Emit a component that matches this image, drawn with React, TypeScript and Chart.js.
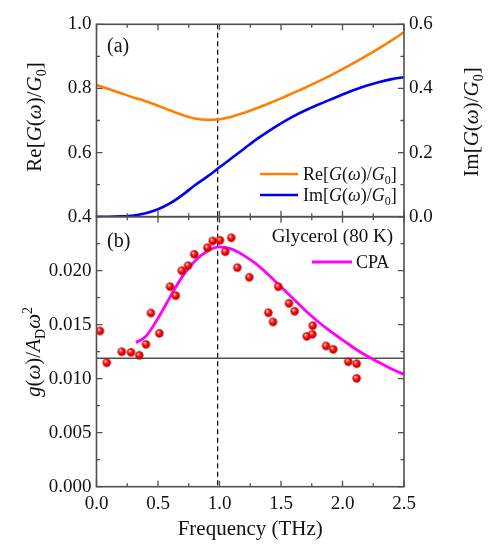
import React, { useEffect, useRef } from "react";
import { Chart, registerables } from "chart.js";

Chart.register(...registerables);

// ---------- data ----------
const freqGrid = [0, 0.1, 0.2, 0.3, 0.4, 0.5, 0.6, 0.7, 0.8, 0.9, 1.0, 1.1, 1.2, 1.3, 1.4, 1.5, 1.6, 1.7, 1.8, 1.9, 2.0, 2.1, 2.2, 2.3, 2.4, 2.5];
const reValues = [0.811, 0.798, 0.785, 0.772, 0.760, 0.746, 0.731, 0.717, 0.706, 0.702, 0.704, 0.712, 0.724, 0.738, 0.753, 0.769, 0.786, 0.803, 0.821, 0.840, 0.860, 0.881, 0.903, 0.926, 0.950, 0.975];
const imValues = [0.0, 0.0, 0.001, 0.004, 0.011, 0.023, 0.042, 0.068, 0.098, 0.125, 0.154, 0.183, 0.212, 0.241, 0.267, 0.291, 0.313, 0.332, 0.349, 0.365, 0.381, 0.396, 0.409, 0.420, 0.429, 0.435];

const cpaFreq = [0.32, 0.4, 0.5, 0.6, 0.7, 0.8, 0.9, 1.0, 1.1, 1.2, 1.3, 1.4, 1.5, 1.6, 1.7, 1.8, 1.9, 2.0, 2.1, 2.2, 2.3, 2.4, 2.5];
const cpaValues = [0.01335, 0.0139, 0.0156, 0.0176, 0.0195, 0.0209, 0.0218, 0.0222, 0.0220, 0.0214, 0.0206, 0.0196, 0.0185, 0.0174, 0.0163, 0.0153, 0.0144, 0.0136, 0.0128, 0.0121, 0.0115, 0.0109, 0.0104];

const expFreq = [0.028, 0.083, 0.205, 0.28, 0.348, 0.402, 0.443, 0.511, 0.598, 0.644, 0.693, 0.744, 0.795, 0.901, 0.945, 1.004, 1.047, 1.096, 1.145, 1.242, 1.397, 1.435, 1.478, 1.565, 1.611, 1.709, 1.755, 1.758, 1.866, 1.925, 2.047, 2.115, 2.115];
const expValues = [0.01442, 0.01148, 0.0125, 0.01244, 0.01217, 0.01318, 0.01608, 0.0142, 0.01852, 0.01769, 0.0200, 0.02046, 0.02152, 0.02213, 0.02275, 0.02281, 0.02176, 0.02305, 0.02028, 0.01939, 0.01611, 0.01525, 0.01852, 0.01698, 0.01624, 0.01392, 0.01411, 0.01491, 0.01303, 0.01272, 0.01157, 0.01139, 0.01003];

const xTicks = [0, 0.5, 1.0, 1.5, 2.0, 2.5];
const xMinorTicks = [0.25, 0.75, 1.25, 1.75, 2.25];
const reTicks = [0.4, 0.6, 0.8, 1.0];
const reMinorTicks = [0.5, 0.7, 0.9];
const imTicks = [0.0, 0.2, 0.4, 0.6];
const imMinorTicks = [0.1, 0.3, 0.5];
const gTicks = [0.0, 0.005, 0.01, 0.015, 0.02];
const gAllTicks = [0.0, 0.005, 0.01, 0.015, 0.02, 0.025];
const gMinorTicks = [0.0025, 0.0075, 0.0125, 0.0175, 0.0225];

const markerFreq = 0.985;
const baselineValue = 0.0119;

// ---------- layout / style ----------
const W = 499;
const H = 556;
const PLOT_L = 96.5;
const PLOT_R = 404;
const TOP_T = 24.3;
const MID = 216.7;
const BOT_B = 486.7;

const FONT = '"Liberation Serif", "DejaVu Serif", serif';
const ORANGE = "#FF8000";
const BLUE = "#0000F0";
const MAGENTA = "#FF00FF";
const AXIS = "#505050";
const TEXT = "#111111";

type Seg = { t: string; i?: boolean; sub?: boolean; sup?: boolean };

function drawRich(ctx: CanvasRenderingContext2D, segs: Seg[], size: number, x: number, y: number, align: "left" | "center" | "right", rotate = false) {
  ctx.save();
  ctx.translate(x, y);
  if (rotate) ctx.rotate(-Math.PI / 2);
  const fontFor = (s: Seg) => `${s.i ? "italic " : ""}${s.sub || s.sup ? Math.round(size * 0.68) : size}px ${FONT}`;
  let w = 0;
  for (const s of segs) {
    ctx.font = fontFor(s);
    w += ctx.measureText(s.t).width;
  }
  let cx = align === "left" ? 0 : align === "center" ? -w / 2 : -w;
  ctx.textBaseline = "alphabetic";
  ctx.textAlign = "left";
  ctx.fillStyle = TEXT;
  const base = size * 0.33;
  for (const s of segs) {
    ctx.font = fontFor(s);
    const dy = s.sub ? size * 0.22 : s.sup ? -size * 0.4 : 0;
    ctx.fillText(s.t, cx, base + dy);
    cx += ctx.measureText(s.t).width;
  }
  ctx.restore();
}

const reLabel: Seg[] = [{ t: "Re[" }, { t: "G", i: true }, { t: "(" }, { t: "ω", i: true }, { t: ")/" }, { t: "G", i: true }, { t: "0", sub: true }, { t: "]" }];
const imLabel: Seg[] = [{ t: "Im[" }, { t: "G", i: true }, { t: "(" }, { t: "ω", i: true }, { t: ")/" }, { t: "G", i: true }, { t: "0", sub: true }, { t: "]" }];
const gLabel: Seg[] = [{ t: "g", i: true }, { t: "(" }, { t: "ω", i: true }, { t: ")/" }, { t: "A", i: true }, { t: "D", sub: true }, { t: "ω", i: true }, { t: "2", sup: true }];

type FrameCfg = {
  left: string;
  right?: string;
  leftMajor: number[];
  leftMinor: number[];
  rightMajor: number[];
  rightMinor: number[];
  hline?: number;
  decorate: (ctx: CanvasRenderingContext2D, chart: any) => void;
};

function makeFramePlugin(cfg: FrameCfg) {
  return {
    id: "frame",
    beforeDatasetsDraw(chart: any) {
      const ctx: CanvasRenderingContext2D = chart.ctx;
      const a = chart.chartArea;
      const xs = chart.scales.x;
      const yl = chart.scales[cfg.left];
      ctx.save();
      if (cfg.hline !== undefined) {
        const py = yl.getPixelForValue(cfg.hline);
        ctx.strokeStyle = AXIS;
        ctx.lineWidth = 1.5;
        ctx.beginPath();
        ctx.moveTo(a.left, py);
        ctx.lineTo(a.right, py);
        ctx.stroke();
      }
      const px = xs.getPixelForValue(markerFreq);
      ctx.strokeStyle = "#000";
      ctx.lineWidth = 1.2;
      ctx.setLineDash([5, 3.5]);
      ctx.beginPath();
      ctx.moveTo(px, a.top);
      ctx.lineTo(px, a.bottom);
      ctx.stroke();
      ctx.restore();
    },
    afterDraw(chart: any) {
      const ctx: CanvasRenderingContext2D = chart.ctx;
      const a = chart.chartArea;
      const xs = chart.scales.x;
      const yl = chart.scales[cfg.left];
      const yr = cfg.right ? chart.scales[cfg.right] : yl;
      const MAJ = 6;
      const MIN = 3.5;
      ctx.save();
      ctx.strokeStyle = AXIS;
      ctx.lineWidth = 1.6;
      ctx.strokeRect(a.left, a.top, a.right - a.left, a.bottom - a.top);
      ctx.lineWidth = 1.3;
      ctx.beginPath();
      const xt = (vals: number[], len: number) => {
        for (const v of vals) {
          const p = xs.getPixelForValue(v);
          ctx.moveTo(p, a.bottom);
          ctx.lineTo(p, a.bottom - len);
          ctx.moveTo(p, a.top);
          ctx.lineTo(p, a.top + len);
        }
      };
      xt(xTicks, MAJ);
      xt(xMinorTicks, MIN);
      const yt = (scale: any, vals: number[], len: number, side: "l" | "r") => {
        for (const v of vals) {
          const p = scale.getPixelForValue(v);
          if (side === "l") {
            ctx.moveTo(a.left, p);
            ctx.lineTo(a.left + len, p);
          } else {
            ctx.moveTo(a.right, p);
            ctx.lineTo(a.right - len, p);
          }
        }
      };
      yt(yl, cfg.leftMajor, MAJ, "l");
      yt(yl, cfg.leftMinor, MIN, "l");
      yt(yr, cfg.rightMajor, MAJ, "r");
      yt(yr, cfg.rightMinor, MIN, "r");
      ctx.stroke();
      ctx.restore();
      cfg.decorate(ctx, chart);
    },
  };
}

function makeSphere(r: number): HTMLCanvasElement {
  const s = Math.ceil(r * 2) + 2;
  const c = document.createElement("canvas");
  c.width = s;
  c.height = s;
  const g = c.getContext("2d")!;
  const cx = s / 2;
  const grad = g.createRadialGradient(cx - r * 0.35, cx - r * 0.4, r * 0.05, cx, cx, r);
  grad.addColorStop(0, "#ffffff");
  grad.addColorStop(0.22, "#ff7070");
  grad.addColorStop(0.55, "#ff0000");
  grad.addColorStop(1, "#b00000");
  g.fillStyle = grad;
  g.beginPath();
  g.arc(cx, cx, r, 0, Math.PI * 2);
  g.fill();
  return c;
}

const tickFont = { family: FONT, size: 19 };

export default function App() {
  const topRef = useRef<HTMLCanvasElement>(null);
  const botRef = useRef<HTMLCanvasElement>(null);

  useEffect(() => {
    const sphere = makeSphere(4.2);

    const topChart = new Chart(topRef.current!, {
      type: "line",
      data: {
        datasets: [
          {
            label: "Re[G(ω)/G0]",
            data: freqGrid.map((x, i) => ({ x, y: reValues[i] })),
            yAxisID: "yRe",
            borderColor: ORANGE,
            backgroundColor: ORANGE,
            borderWidth: 2.6,
            pointRadius: 0,
            cubicInterpolationMode: "monotone",
          },
          {
            label: "Im[G(ω)/G0]",
            data: freqGrid.map((x, i) => ({ x, y: imValues[i] })),
            yAxisID: "yIm",
            borderColor: BLUE,
            backgroundColor: BLUE,
            borderWidth: 2.6,
            pointRadius: 0,
            cubicInterpolationMode: "monotone",
          },
        ],
      },
      options: {
        responsive: false,
        animation: false,
        devicePixelRatio: 1,
        events: [],
        layout: { padding: { left: 0, right: 0, top: TOP_T, bottom: H - MID } },
        plugins: { legend: { display: false }, tooltip: { enabled: false } },
        scales: {
          x: { type: "linear", min: 0, max: 2.5, display: false },
          yRe: {
            type: "linear",
            position: "left",
            min: 0.4,
            max: 1.0,
            afterFit: (s: any) => {
              s.width = PLOT_L;
            },
            afterBuildTicks: (s: any) => {
              s.ticks = reTicks.map((v) => ({ value: v }));
            },
            ticks: { font: tickFont, color: TEXT, padding: 5, callback: (v: any) => Number(v).toFixed(1) },
            grid: { display: false, drawTicks: false },
            border: { display: false },
          },
          yIm: {
            type: "linear",
            position: "right",
            min: 0,
            max: 0.6,
            afterFit: (s: any) => {
              s.width = W - PLOT_R;
            },
            afterBuildTicks: (s: any) => {
              s.ticks = imTicks.map((v) => ({ value: v }));
            },
            ticks: { font: tickFont, color: TEXT, padding: 5, callback: (v: any) => Number(v).toFixed(1) },
            grid: { display: false, drawTicks: false },
            border: { display: false },
          },
        },
      } as any,
      plugins: [
        makeFramePlugin({
          left: "yRe",
          right: "yIm",
          leftMajor: reTicks,
          leftMinor: reMinorTicks,
          rightMajor: imTicks,
          rightMinor: imMinorTicks,
          decorate: (ctx, chart) => {
            drawRich(ctx, [{ t: "(a)" }], 20, 107, 45, "left");
            drawRich(ctx, reLabel, 21, 34, 117, "center", true);
            drawRich(ctx, imLabel, 21, 471, 122, "center", true);
            const ds = chart.data.datasets;
            const legendRows = [
              { y: 174, color: ds[0].borderColor, segs: reLabel },
              { y: 195, color: ds[1].borderColor, segs: imLabel },
            ];
            for (const row of legendRows) {
              ctx.save();
              ctx.strokeStyle = row.color;
              ctx.lineWidth = 2.6;
              ctx.beginPath();
              ctx.moveTo(260, row.y);
              ctx.lineTo(298, row.y);
              ctx.stroke();
              ctx.restore();
              drawRich(ctx, row.segs, 18, 303, row.y, "left");
            }
          },
        }),
      ],
    });

    const botChart = new Chart(botRef.current!, {
      type: "line",
      data: {
        datasets: [
          {
            label: "Glycerol (80 K)",
            data: expFreq.map((x, i) => ({ x, y: expValues[i] })),
            yAxisID: "yG",
            showLine: false,
            pointStyle: sphere as any,
            pointRadius: 4.2,
            borderColor: "#ff0000",
            backgroundColor: "#ff0000",
          },
          {
            label: "CPA",
            data: cpaFreq.map((x, i) => ({ x, y: cpaValues[i] })),
            yAxisID: "yG",
            borderColor: MAGENTA,
            backgroundColor: MAGENTA,
            borderWidth: 2.8,
            pointRadius: 0,
            cubicInterpolationMode: "monotone",
          },
        ],
      },
      options: {
        responsive: false,
        animation: false,
        devicePixelRatio: 1,
        events: [],
        layout: { padding: { left: 0, right: W - PLOT_R, top: MID, bottom: 0 } },
        plugins: { legend: { display: false }, tooltip: { enabled: false } },
        scales: {
          x: {
            type: "linear",
            position: "bottom",
            min: 0,
            max: 2.5,
            afterFit: (s: any) => {
              s.height = H - BOT_B;
            },
            afterBuildTicks: (s: any) => {
              s.ticks = xTicks.map((v) => ({ value: v }));
            },
            ticks: { font: tickFont, color: TEXT, padding: 3, maxRotation: 0, callback: (v: any) => Number(v).toFixed(1) },
            grid: { display: false, drawTicks: true, tickLength: 3 },
            border: { display: false },
            title: { display: true, text: "Frequency (THz)", font: { family: FONT, size: 21 }, color: TEXT, padding: { top: 0, bottom: 14 } },
          },
          yG: {
            type: "linear",
            position: "left",
            min: 0,
            max: 0.025,
            afterFit: (s: any) => {
              s.width = PLOT_L;
            },
            afterBuildTicks: (s: any) => {
              s.ticks = gTicks.map((v) => ({ value: v }));
            },
            ticks: { font: tickFont, color: TEXT, padding: 5, callback: (v: any) => Number(v).toFixed(3) },
            grid: { display: false, drawTicks: false },
            border: { display: false },
          },
        },
      } as any,
      plugins: [
        makeFramePlugin({
          left: "yG",
          leftMajor: gAllTicks,
          leftMinor: gMinorTicks,
          rightMajor: gAllTicks,
          rightMinor: gMinorTicks,
          hline: baselineValue,
          decorate: (ctx, chart) => {
            drawRich(ctx, [{ t: "(b)" }], 20, 107, 240, "left");
            drawRich(ctx, gLabel, 21, 33, 352, "center", true);
            drawRich(ctx, [{ t: String(chart.data.datasets[0].label) }], 19, 393, 236, "right");
            ctx.save();
            ctx.strokeStyle = chart.data.datasets[1].borderColor;
            ctx.lineWidth = 2.8;
            ctx.beginPath();
            ctx.moveTo(312, 262);
            ctx.lineTo(352, 262);
            ctx.stroke();
            ctx.restore();
            drawRich(ctx, [{ t: String(chart.data.datasets[1].label) }], 18, 356, 262, "left");
          },
        }),
      ],
    });

    return () => {
      topChart.destroy();
      botChart.destroy();
    };
  }, []);

  const cs: React.CSSProperties = { position: "absolute", left: 0, top: 0, width: W, height: H };
  return (
    <div style={{ position: "absolute", left: 0, top: 0, width: W, height: H, background: "#fff" }}>
      <canvas ref={botRef} width={W} height={H} style={cs} />
      <canvas ref={topRef} width={W} height={H} style={cs} />
    </div>
  );
}
